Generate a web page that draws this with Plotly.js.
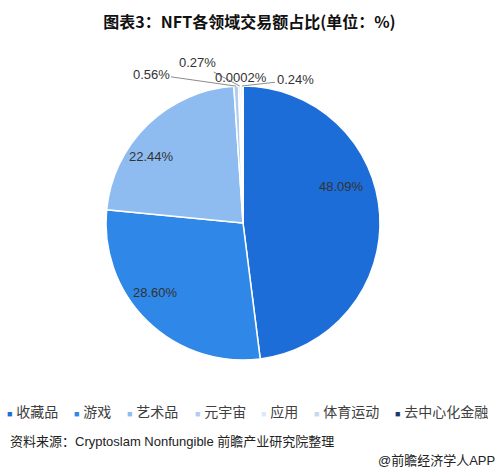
<!DOCTYPE html>
<html>
<head>
<meta charset="utf-8">
<script src="https://cdn.plot.ly/plotly-3.0.1.min.js"></script>
<style>html,body{margin:0;padding:0;background:#fff;}#chart{width:499px;height:475px;}</style>
</head>
<body>
<div id="chart"></div>
<script>
// ---- data ----
const categories = ['收藏品', '游戏', '艺术品', '元宇宙', '应用', '体育运动', '去中心化金融'];
const shares = [48.09, 28.60, 22.44, 0.56, 0.27, 0.24, 0.0002];
const sliceColors = ['#1c6dd8', '#2f87e8', '#8ebcf0', '#b0cdf0', '#dde9f6', '#c6d7ef', '#1b3a70'];

const W = 499, H = 475;
const FONT = 'Arial, "Liberation Sans", "Noto Sans CJK SC", sans-serif';

// pie geometry (pixels)
const pieBox = {left: 106, top: 86, size: 274};
const cx = pieBox.left + pieBox.size / 2, cy = pieBox.top + pieBox.size / 2, R = pieBox.size / 2;

const total = shares.reduce((a, b) => a + b, 0);
const midAngle = [];
let acc = 0;
shares.forEach(v => { midAngle.push((acc + v / 2) / total * 2 * Math.PI); acc += v; });

function fmt(v) { return (v < 0.01 ? v.toString() : v.toFixed(2)) + '%'; }

const annotations = [];
// label placement (pixels): big slices inside, small slices as callouts
const insidePos = {0: [341, 186], 1: [155, 292], 2: [151, 156]};
const calloutPos = {3: [151, 74], 4: [197, 63], 5: [295, 80], 6: [241, 77]};
shares.forEach((v, idx) => {
  if (insidePos[idx]) {
    const p = insidePos[idx];
    annotations.push({
      xref: 'paper', yref: 'paper', x: p[0] / W, y: 1 - p[1] / H,
      xanchor: 'center', yanchor: 'middle', showarrow: false, text: fmt(v),
      font: {family: FONT, size: 13, color: '#333'}
    });
  } else {
    const th = midAngle[idx];
    const tx = cx + R * Math.sin(th), ty = cy - R * Math.cos(th);
    const p = calloutPos[idx];
    annotations.push({
      xref: 'paper', yref: 'paper', x: tx / W, y: 1 - ty / H,
      ax: p[0] - tx, ay: p[1] - ty, text: fmt(v),
      showarrow: true, arrowhead: 0, arrowwidth: 1, arrowcolor: '#8c8c8c',
      font: {family: FONT, size: 13, color: '#333'}, standoff: 0, startstandoff: 0
    });
  }
});

// custom legend row
const legendX = [5, 72, 125, 193, 259, 312, 393];
categories.forEach((c, i) => {
  annotations.push({
    xref: 'paper', yref: 'paper', x: legendX[i] / W, y: 1 - 412 / H,
    xanchor: 'left', yanchor: 'middle', showarrow: false,
    text: '<span style="color:' + sliceColors[i] + ';font-size:9px">■</span> ' + c,
    font: {family: FONT, size: 14, color: '#404040'}
  });
});

// footer
annotations.push({
  xref: 'paper', yref: 'paper', x: 8 / W, y: 1 - 441 / H, xanchor: 'left', yanchor: 'middle',
  showarrow: false, text: '资料来源：Cryptoslam Nonfungible 前瞻产业研究院整理',
  font: {family: FONT, size: 13, color: '#222'}
});
annotations.push({
  xref: 'paper', yref: 'paper', x: 497 / W, y: 1 - 460 / H, xanchor: 'right', yanchor: 'middle',
  showarrow: false, text: '@前瞻经济学人APP',
  font: {family: FONT, size: 13, color: '#222'}
});

const trace = {
  type: 'pie',
  labels: categories,
  values: shares,
  sort: false,
  direction: 'clockwise',
  rotation: 0,
  marker: {colors: sliceColors, line: {color: '#ffffff', width: 1.5}},
  textinfo: 'none',
  hoverinfo: 'none',
  showlegend: false,
  domain: {x: [pieBox.left / W, (pieBox.left + pieBox.size) / W],
           y: [1 - (pieBox.top + pieBox.size) / H, 1 - pieBox.top / H]}
};

const layout = {
  width: W, height: H,
  margin: {l: 0, r: 0, t: 0, b: 0},
  paper_bgcolor: '#fff',
  showlegend: false,
  title: {text: '<b>图表3：NFT各领域交易额占比(单位：%)</b>', x: 0.5, xanchor: 'center', y: 1 - 22 / H, yanchor: 'middle',
          font: {family: '"Noto Sans CJK SC", sans-serif', size: 16, color: '#111'}},
  annotations: annotations
};

Plotly.newPlot('chart', [trace], layout, {displayModeBar: false, staticPlot: true});
</script>
</body>
</html>
